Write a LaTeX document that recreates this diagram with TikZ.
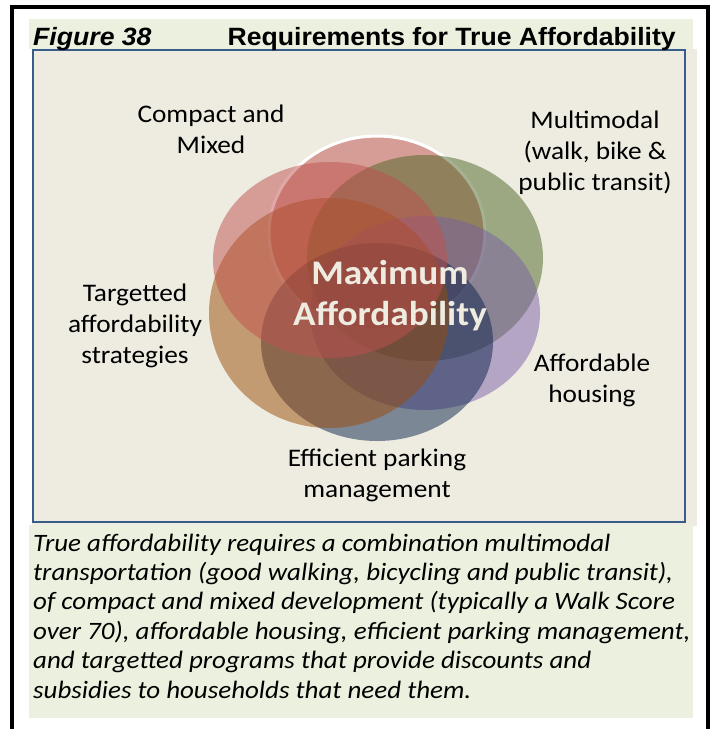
\documentclass[tikz,border=0pt]{standalone}
\usepackage{fontspec}
\setmainfont{Carlito}
\newfontfamily\arialf{Liberation Sans}[FakeStretch=1.065]
\newfontfamily\lblfont{Carlito}[FakeStretch=1.08]
\newfontfamily\capfont{Carlito}[FakeStretch=1.08]
\newfontfamily\maxfont{Carlito}[FakeStretch=1.08]
\definecolor{framegreen}{HTML}{EBF1DE}
\definecolor{beige}{HTML}{EEECE1}
\definecolor{boxblue}{HTML}{385D8A}
\definecolor{cRose}{HTML}{C0504D}
\definecolor{cGreen}{HTML}{4C6524}
\definecolor{cPurple}{HTML}{7A5FA6}
\definecolor{cOrange}{HTML}{9A4B06}
\definecolor{cNavy}{HTML}{0C234C}
\definecolor{cream}{HTML}{EEECE1}
\begin{document}
\begin{tikzpicture}[x=1pt,y=-1pt,
  lbl/.style={align=center,font=\lblfont\fontsize{25.3}{30.8}\selectfont,inner sep=0pt},
  venn/.style={opacity=0.5},
  captxt/.style={anchor=base west,inner sep=0pt,font=\capfont\fontsize{25}{29}\selectfont\itshape}]
\useasboundingbox (0,0) rectangle (717,729);
\fill[white] (0,0) rectangle (717,729);
% backgrounds
\fill[framegreen] (29,19) rectangle (693,49);
\fill[beige] (32,49) rectangle (697,526);
\fill[framegreen] (29,525) rectangle (693,718);
\draw[boxblue,line width=2.2pt] (33,50) rectangle (685,522);
% outer frame
\draw[black,line width=4pt] (12,729) -- (12,6.5) -- (708,6.5) -- (708,729);
% title
\node[anchor=base west,inner sep=0pt,font=\arialf\bfseries\itshape\fontsize{25}{28}\selectfont] (fig) at (33,45.5) {Figure 38};
\node[anchor=base east,inner sep=0pt,font=\arialf\bfseries\fontsize{25}{28}\selectfont] (title) at (676,45.5) {Requirements for True Affordability};
% venn ellipses
\fill[cRose,venn] (377,233) ellipse [x radius=108pt, y radius=97pt];
\draw[white,line width=3pt] (377,233) ellipse [x radius=108pt, y radius=97pt];
\fill[cGreen,venn] (425,258) ellipse [x radius=118pt, y radius=103pt];
\fill[cPurple,venn] (425,313) ellipse [x radius=115pt, y radius=97pt];
\fill[cNavy,venn] (377,342) ellipse [x radius=116pt, y radius=99pt];
\fill[cOrange,venn] (329,313) ellipse [x radius=120pt, y radius=115pt];
\fill[cRose,venn] (330,260) ellipse [x radius=117pt, y radius=98pt];
% center text
\node[align=center,inner sep=0pt,text=cream,font=\maxfont\bfseries\fontsize{34.5}{41}\selectfont] (max) at (390,296) {Maximum\\Affordability};
% labels
\node[lbl] (compact) at (211,129) {Compact and\\Mixed};
\node[lbl] (multi) at (595,153) {Multimodal\\(walk, bike \&\\public transit)};
\node[lbl] (target) at (135,326) {Targetted\\affordability\\strategies};
\node[lbl] (house) at (592,380) {Affordable\\housing};
\node[lbl] (park) at (377,475) {Efficient parking\\management};
% caption
\node[captxt] (c1) at (33,551) {True affordability requires a combination multimodal};
\node[captxt] (c2) at (33,580.4) {transportation (good walking, bicycling and public transit),};
\node[captxt] (c3) at (33,609.8) {of compact and mixed development (typically a Walk Score};
\node[captxt] (c4) at (33,639.2) {over 70), affordable housing, efficient parking management,};
\node[captxt] (c5) at (33,668.6) {and targetted programs that provide discounts and};
\node[captxt] (c6) at (33,698) {subsidies to households that need them.};
\end{tikzpicture}
\end{document}
